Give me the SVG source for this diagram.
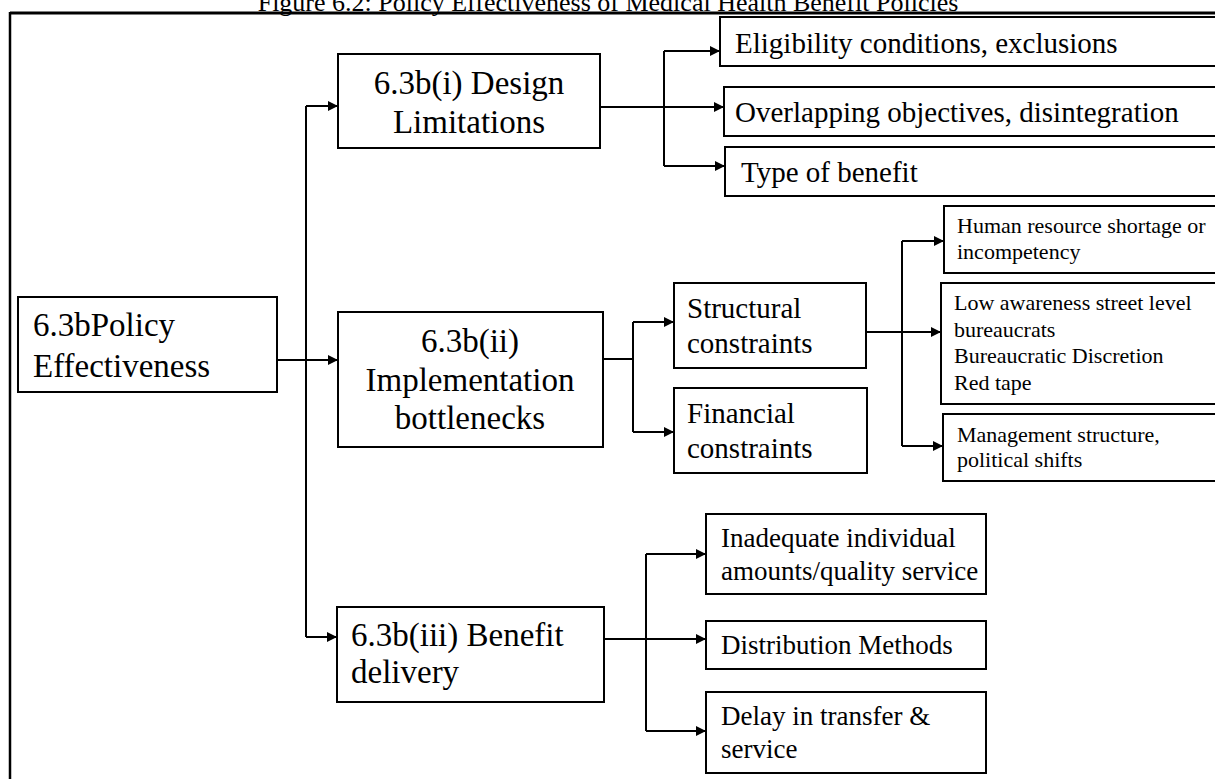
<svg xmlns="http://www.w3.org/2000/svg" width="1215" height="779" viewBox="0 0 1215 779">
<style>
.box{fill:#fff;stroke:#000;stroke-width:2}
.t{font-family:"Liberation Serif","Times New Roman",serif;fill:#000}
.big{font-size:33px}
.mid{font-size:29px}
.tr{font-size:29px}
.bt{font-size:27px}
.sm{font-size:22px}
.c{text-anchor:middle}
.ln{fill:none;stroke:#000;stroke-width:2}
</style>
<defs>
<marker id="ah" markerUnits="userSpaceOnUse" markerWidth="11" markerHeight="10" refX="10" refY="5" orient="auto">
<path d="M0,0 L10,5 L0,10 Z" fill="#000"/>
</marker>
</defs>
<rect width="1215" height="779" fill="#fff"/>
<text class="t c" x="608" y="11" font-size="26">Figure 6.2: Policy Effectiveness of Medical Health Benefit Policies</text>
<g id="frame">
<line x1="10" y1="13" x2="1215" y2="13" stroke="#000" stroke-width="3"/>
<line x1="10" y1="12" x2="10" y2="779" stroke="#000" stroke-width="2.5"/>
</g>
<g id="connectors">
<path class="ln" d="M306,106 V637"/>
<path class="ln" d="M277,360 H338" marker-end="url(#ah)"/>
<path class="ln" d="M306,106 H338" marker-end="url(#ah)"/>
<path class="ln" d="M306,637 H337" marker-end="url(#ah)"/>
<path class="ln" d="M600,107 H724" marker-end="url(#ah)"/>
<path class="ln" d="M664,51 V166"/>
<path class="ln" d="M664,51 H720" marker-end="url(#ah)"/>
<path class="ln" d="M664,166 H725" marker-end="url(#ah)"/>
<path class="ln" d="M603,359 H633"/>
<path class="ln" d="M633,322 V432"/>
<path class="ln" d="M633,322 H674" marker-end="url(#ah)"/>
<path class="ln" d="M633,432 H674" marker-end="url(#ah)"/>
<path class="ln" d="M866,332 H941" marker-end="url(#ah)"/>
<path class="ln" d="M902,241 V446"/>
<path class="ln" d="M902,241 H944" marker-end="url(#ah)"/>
<path class="ln" d="M902,446 H943" marker-end="url(#ah)"/>
<path class="ln" d="M604,639 H706" marker-end="url(#ah)"/>
<path class="ln" d="M646,554 V731"/>
<path class="ln" d="M646,554 H706" marker-end="url(#ah)"/>
<path class="ln" d="M646,731 H706" marker-end="url(#ah)"/>
</g>
<g id="root">
<rect class="box" x="18" y="297" width="259" height="95"/>
<text class="t big" x="33" y="336">6.3bPolicy</text>
<text class="t big" x="33" y="377">Effectiveness</text>
</g>
<g id="design">
<rect class="box" x="338" y="54" width="262" height="94"/>
<text class="t big c" x="469" y="94">6.3b(i) Design</text>
<text class="t big c" x="469" y="133">Limitations</text>
</g>
<g id="implementation">
<rect class="box" x="338" y="312" width="265" height="135"/>
<text class="t big c" x="470" y="352">6.3b(ii)</text>
<text class="t big c" x="470" y="391">Implementation</text>
<text class="t big c" x="470" y="429">bottlenecks</text>
</g>
<g id="benefit">
<rect class="box" x="337" y="607" width="267" height="95"/>
<text class="t big" x="351" y="646">6.3b(iii) Benefit</text>
<text class="t big" x="351" y="683">delivery</text>
</g>
<g id="eligibility">
<rect class="box" x="720" y="17" width="510" height="49"/>
<text class="t tr" x="735" y="53">Eligibility conditions, exclusions</text>
</g>
<g id="overlapping">
<rect class="box" x="724" y="87" width="510" height="49"/>
<text class="t tr" x="735" y="122">Overlapping objectives, disintegration</text>
</g>
<g id="type">
<rect class="box" x="725" y="147" width="510" height="49"/>
<text class="t tr" x="741" y="182">Type of benefit</text>
</g>
<g id="structural">
<rect class="box" x="674" y="283" width="192" height="85"/>
<text class="t mid" x="687" y="318">Structural</text>
<text class="t mid" x="687" y="353">constraints</text>
</g>
<g id="financial">
<rect class="box" x="674" y="388" width="193" height="85"/>
<text class="t mid" x="687" y="423">Financial</text>
<text class="t mid" x="687" y="458">constraints</text>
</g>
<g id="human">
<rect class="box" x="944" y="206" width="290" height="67"/>
<text class="t sm" x="957" y="233">Human resource shortage or</text>
<text class="t sm" x="957" y="259">incompetency</text>
</g>
<g id="awareness">
<rect class="box" x="941" y="283" width="290" height="121"/>
<text class="t sm" x="954" y="310">Low awareness street level</text>
<text class="t sm" x="954" y="337">bureaucrats</text>
<text class="t sm" x="954" y="363">Bureaucratic Discretion</text>
<text class="t sm" x="954" y="390">Red tape</text>
</g>
<g id="management">
<rect class="box" x="943" y="414" width="290" height="67"/>
<text class="t sm" x="957" y="442">Management structure,</text>
<text class="t sm" x="957" y="467">political shifts</text>
</g>
<g id="inadequate">
<rect class="box" x="706" y="514" width="280" height="80"/>
<text class="t bt" x="721" y="547">Inadequate individual</text>
<text class="t bt" x="721" y="580">amounts/quality service</text>
</g>
<g id="distribution">
<rect class="box" x="706" y="621" width="280" height="48"/>
<text class="t bt" x="721" y="654">Distribution Methods</text>
</g>
<g id="delay">
<rect class="box" x="706" y="692" width="280" height="81"/>
<text class="t bt" x="721" y="725">Delay in transfer &amp;</text>
<text class="t bt" x="721" y="758">service</text>
</g>
</svg>
